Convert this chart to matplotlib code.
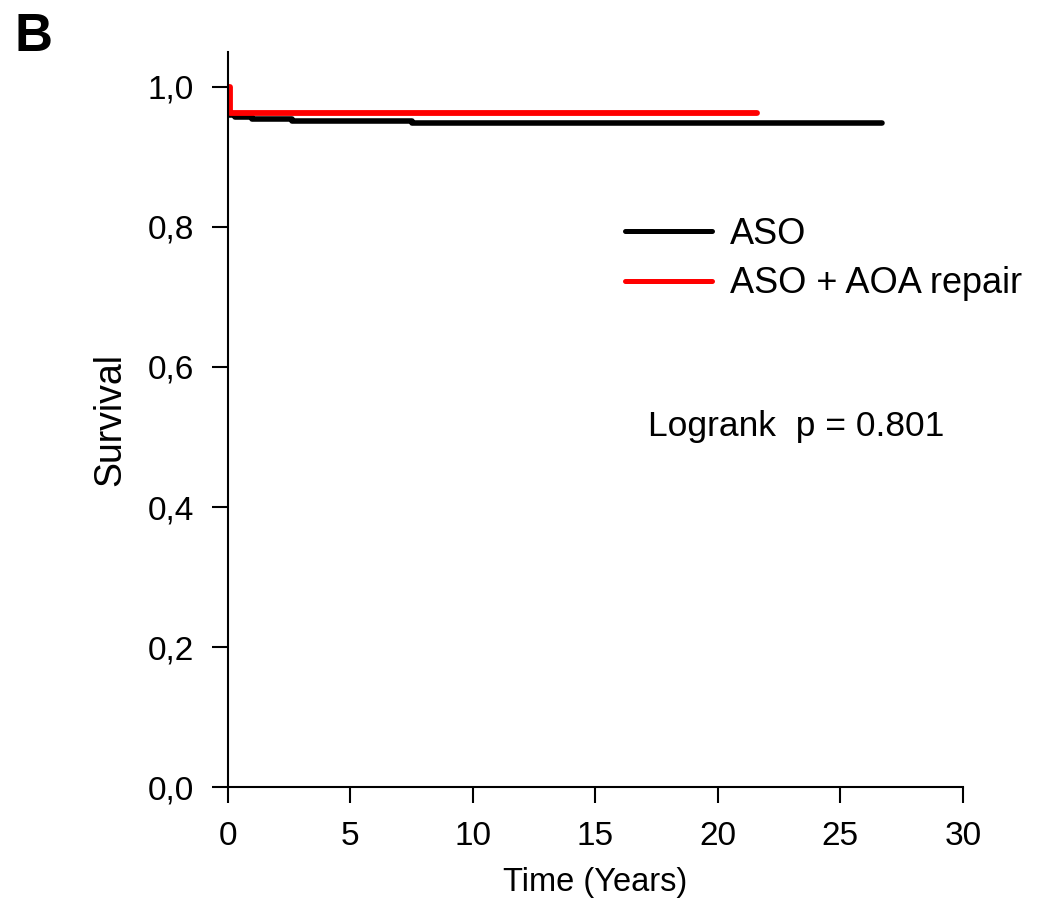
import matplotlib
matplotlib.use('Agg')
import matplotlib.pyplot as plt

plt.rcParams['font.family'] = ['Liberation Sans', 'DejaVu Sans']

# Kaplan-Meier step data (time in years, survival)
aso_time = [0, 0.02, 0.3, 1.0, 2.6, 7.5, 26.7]
aso_surv = [1.0, 0.960, 0.957, 0.954, 0.951, 0.948, 0.948]

aoa_time = [0, 0.08, 21.6]
aoa_surv = [1.0, 0.963, 0.963]

x_ticks = [0, 5, 10, 15, 20, 25, 30]
y_ticks = [0.0, 0.2, 0.4, 0.6, 0.8, 1.0]
y_tick_labels = ['0,0', '0,2', '0,4', '0,6', '0,8', '1,0']

fig = plt.figure(figsize=(10.41, 9.23), dpi=100)
ax = fig.add_axes([0.219, 0.1473, 0.706, 0.7964])

ax.step(aso_time, aso_surv, where='post', color='black', lw=4.0,
        solid_capstyle='round', label='ASO')
ax.step(aoa_time, aoa_surv, where='post', color='#ff0000', lw=4.2,
        solid_capstyle='round', label='ASO + AOA repair')

ax.set_xlim(0, 30)
ax.set_ylim(0, 1.05)
ax.set_xticks(x_ticks)
ax.set_yticks(y_ticks)
ax.set_yticklabels(y_tick_labels)
ax.tick_params(direction='out', length=11.5, width=1.5, labelsize=24)
ax.tick_params(axis='x', pad=13)
ax.tick_params(axis='y', pad=13)
for s in ['top', 'right']:
    ax.spines[s].set_visible(False)
for s in ['left', 'bottom']:
    ax.spines[s].set_linewidth(1.5)

ax.set_xlabel('Time (Years)', fontsize=23.5, labelpad=11)
ax.set_ylabel('Survival', fontsize=27, labelpad=14)

leg = ax.legend(loc='center left', bbox_to_anchor=(0.540, 0.718), frameon=False,
                fontsize=26, handlelength=2.4, handletextpad=0.5,
                labelspacing=0.4, borderpad=0, borderaxespad=0)
for line in leg.get_lines():
    line.set_linewidth(3.6)

ax.text(0.571, 0.491, 'Logrank  p = 0.801', transform=ax.transAxes,
        fontsize=25.5, va='center')

fig.text(0.014, 0.987, 'B', fontsize=38, fontweight='bold', va='top')

fig.savefig('out.png', dpi=100)
